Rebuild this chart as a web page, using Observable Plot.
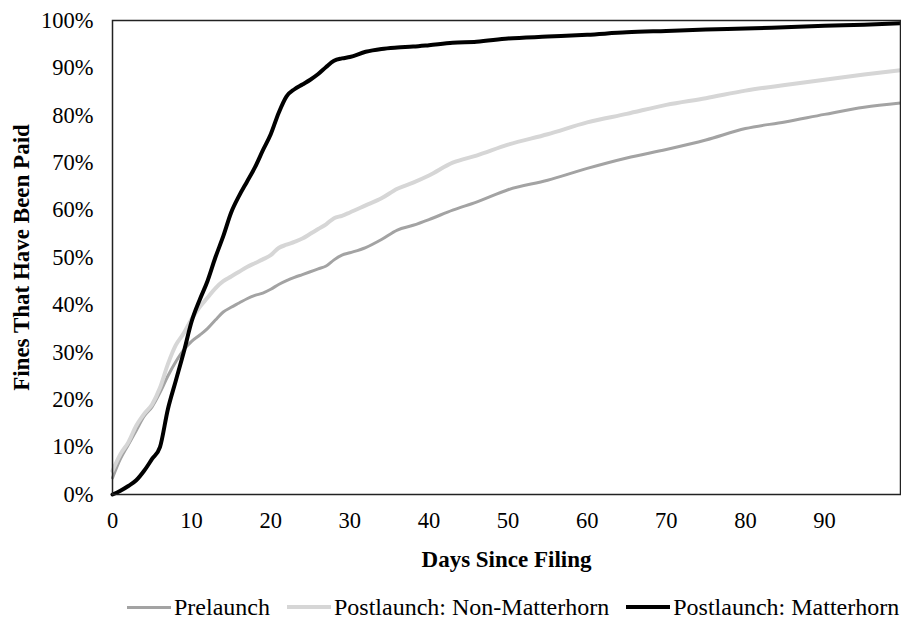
<!DOCTYPE html>
<html><head><meta charset="utf-8">
<script src="https://cdn.jsdelivr.net/npm/d3@7"></script>
<script src="https://cdn.jsdelivr.net/npm/@observablehq/plot@0.6"></script>
<style>
body{margin:0;background:#fff;font-family:"Liberation Serif","Times New Roman",serif;}
#chart svg{display:block}
#chart svg text{font-family:"Liberation Serif","Times New Roman",serif !important;font-size:22.5px !important;fill:#000}
#chart g[aria-label="y-axis label"] text, #chart g[aria-label="x-axis label"] text{font-weight:bold !important;font-size:23px !important}
#legend{display:flex;justify-content:flex-start;align-items:center;font-size:24px;height:38px;margin-top:8px;padding-left:127px;color:#000;white-space:nowrap}
#legend .item{display:flex;align-items:center;margin-right:17px}
#legend .item:last-child{margin-right:0}
#legend .sw{width:44px;height:4px;margin-right:3px}
</style></head><body>
<div id="chart"></div>
<div id="legend"></div>
<script>
const days = [0,1,2,3,4,5,6,7,8,9,10,11,12,13,14,15,16,17,18,19,20,21,22,23,24,25,26,27,28,29,30,32,34,36,38,40,43,46,50,55,60,65,70,75,80,85,90,95,99.6];
const prelaunch = [3.5,7.5,10.5,13.5,16.5,18.5,21.5,25,28,30.5,32.3,33.6,35,36.8,38.5,39.5,40.4,41.3,42,42.5,43.3,44.3,45.1,45.8,46.4,47,47.6,48.2,49.5,50.5,51,52.1,53.8,55.8,56.8,58,60,61.7,64.3,66.3,68.8,71,72.8,74.8,77.2,78.6,80.2,81.7,82.6];
const nonMatterhorn = [5,8.5,11,14.5,17,19,22.5,27.5,31.5,34,37,39.5,41.5,43.5,45,46,47,48,48.8,49.6,50.5,52,52.7,53.3,54,55,56,57,58.3,58.8,59.5,61,62.5,64.5,65.8,67.3,70,71.5,73.8,76,78.5,80.3,82.2,83.6,85.2,86.4,87.5,88.6,89.5];
const matterhorn = [0,0.8,1.8,3,5,7.5,10,18,24,30,36.5,41,45,50,54.5,59.5,63,66,69,72.6,76,80.5,84,85.5,86.5,87.5,88.7,90.2,91.5,92,92.3,93.4,94,94.3,94.5,94.8,95.3,95.5,96.2,96.6,97,97.5,97.8,98.1,98.3,98.6,98.9,99.1,99.4];
const seriesNames = ["Prelaunch","Postlaunch: Non-Matterhorn","Postlaunch: Matterhorn"];
const seriesColors = ["#a3a3a3","#d6d6d6","#000000"];
const seriesWidths = [3,4,4];
const xTicks = [0,10,20,30,40,50,60,70,80,90];
const yTicks = [0,10,20,30,40,50,60,70,80,90,100];

const allSeries = [prelaunch, nonMatterhorn, matterhorn];
const rows = allSeries.map((vals,i)=>days.map((d,j)=>({day:d, paid:vals[j], series:seriesNames[i]})));

const chart = Plot.plot({
  width: 901, height: 580,
  marginLeft: 112, marginRight: 1, marginTop: 20, marginBottom: 86,
  style: {fontFamily: "Liberation Serif, serif", fontSize: "22px", color: "#000", background: "#fff"},
  x: {domain: [0, 99.6]},
  y: {domain: [0, 100]},
  marks: [
    Plot.axisX({ticks: xTicks, tickSize: 0, tickPadding: 18, label: "Days Since Filing", labelAnchor: "center", labelArrow: "none", labelOffset: 72}),
    Plot.axisY({ticks: yTicks, tickSize: 0, tickPadding: 19, tickFormat: d => d + "%", label: "Fines That Have Been Paid", labelAnchor: "center", labelArrow: "none", labelOffset: 100}),
    ...rows.map((r,i)=>Plot.line(r, {x:"day", y:"paid", stroke: seriesColors[i], strokeWidth: seriesWidths[i], curve: "monotone-x", strokeLinejoin:"round"})),
    Plot.frame({stroke: "#222", strokeWidth: 1.5})
  ]
});
document.getElementById("chart").append(chart);

const lg = document.getElementById("legend");
seriesNames.forEach((n,i)=>{
  const it = document.createElement("div"); it.className="item";
  const sw = document.createElement("div"); sw.className="sw"; sw.style.background=seriesColors[i]; sw.style.height = seriesWidths[i]+"px";
  const t = document.createElement("span"); t.textContent=n;
  it.append(sw,t); lg.append(it);
});
</script>
</body></html>
